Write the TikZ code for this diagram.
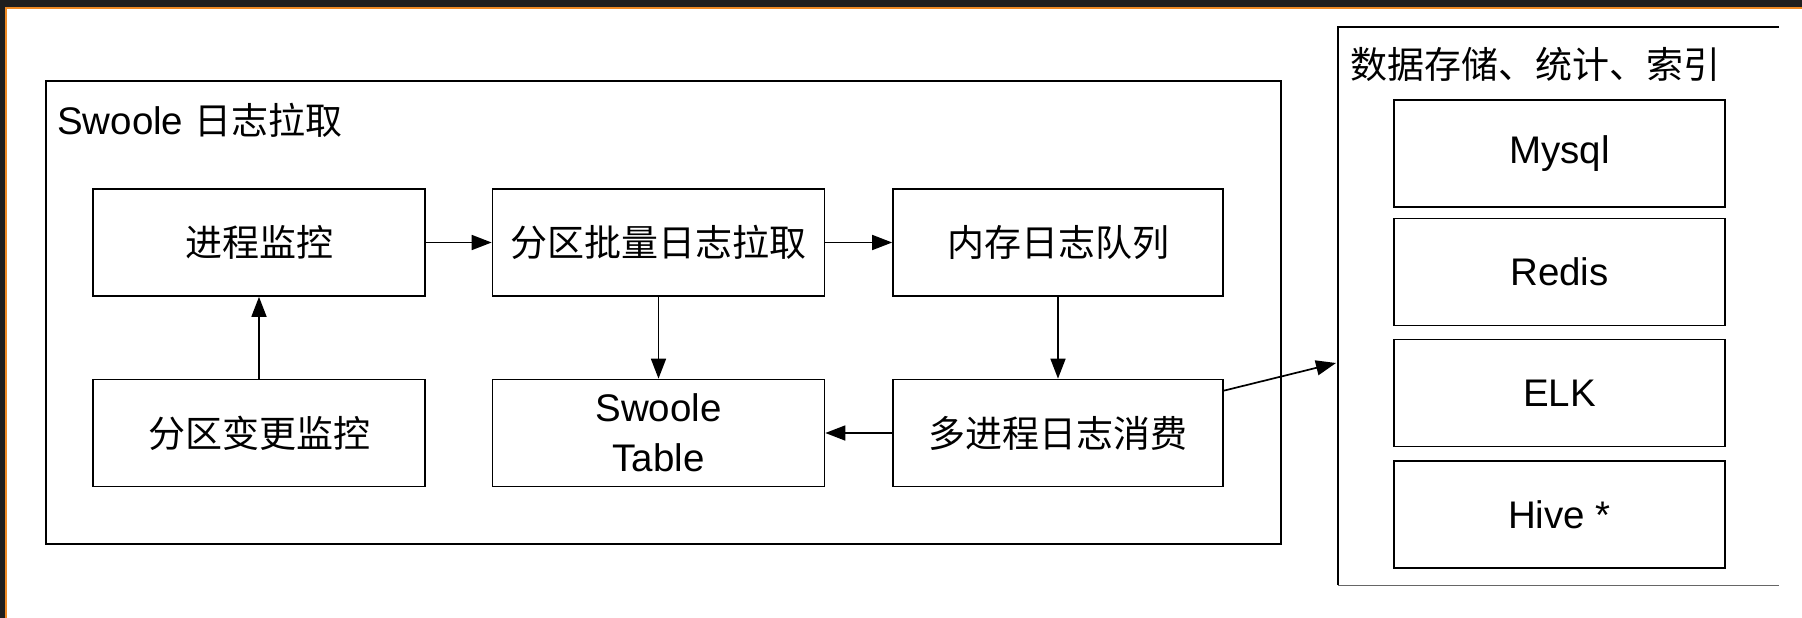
\documentclass[tikz,border=0pt]{standalone}
\usepackage{fontspec}
\setmainfont{Liberation Sans}[Scale=1.04]
\newfontfamily\cjk{Noto Sans CJK SC}
\usetikzlibrary{arrows.meta}
\definecolor{framedark}{HTML}{1E1E1E}
\definecolor{frameorange}{HTML}{EE8A24}
\tikzset{
	box/.style={draw, line width=1.7pt, minimum width=332pt, minimum height=107pt, inner sep=0pt, align=center},
	arr/.style={-{Triangle[length=20pt,width=15pt]}, line width=1.7pt},
}
\begin{document}
\begin{tikzpicture}[x=1pt,y=-1pt,font=\fontsize{37}{50}\selectfont]
	\useasboundingbox (0,0) rectangle (1802,618);
	\fill[framedark] (0,0) rectangle (1802,7); %window bar
	\fill[framedark] (0,0) rectangle (5,618);
	\fill[frameorange] (5,7) rectangle (1802,9);
	\fill[frameorange] (5,7) rectangle (7,618);
	
	\draw[line width=1.7pt] (46,81) rectangle (1281,544); %swoole part
	\draw[line width=1.7pt] (1779,27) -- (1338,27) -- (1338,585); %store part
	\draw[line width=1pt, black!60] (1338,585) -- (1779,585);
	
	\node[anchor=west, inner sep=0pt] at (57,120) (pulltitle) {Swoole {\cjk 日志拉取}};
	\node[anchor=west, inner sep=0pt] at (1350,64) (storetitle) {\cjk 数据存储、统计、索引};
	
	\node[box] at (259,242.5) (watch) {\cjk 进程监控};
	\node[box] at (658.5,242.5) (pull) {\cjk 分区批量日志拉取};
	\node[box, minimum width=330pt] at (1058,242.5) (queue) {\cjk 内存日志队列};
	\node[box] at (259,433) (partwatch) {\cjk 分区变更监控};
	\node[box] at (658.5,433) (table) {Swoole\\Table};
	\node[box, minimum width=330pt] at (1058,433) (consume) {\cjk 多进程日志消费};
	
	\node[box, minimum width=331pt] at (1559.5,153.5) (mysql) {Mysql};
	\node[box, minimum width=331pt] at (1559.5,272) (redis) {Redis};
	\node[box, minimum width=331pt] at (1559.5,393) (elk) {ELK};
	\node[box, minimum width=331pt] at (1559.5,514.5) (hive) {Hive *};
	
	\coordinate (storein) at (1336,363);
	
	\draw[arr] (watch) -- (pull);
	\draw[arr] (pull) -- (queue);
	\draw[arr] (partwatch) -- (watch);
	\draw[arr] (pull) -- (table);
	\draw[arr] (queue) -- (consume);
	\draw[arr] (consume) -- (table);
	\draw[arr] ([yshift=-12pt]consume.north east) -- (storein);
\end{tikzpicture}
\end{document}
